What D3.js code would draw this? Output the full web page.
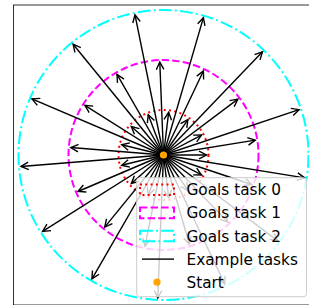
<!DOCTYPE html>
<html>
<head>
<meta charset="utf-8">
<script src="https://cdn.jsdelivr.net/npm/d3@7"></script>
<style>
  html, body { margin: 0; padding: 0; background: #fff; }
  svg { display: block; }
</style>
</head>
<body>
<svg id="chart" width="309" height="305"></svg>
<script>
// ---- data ----
const taskLabels = ["Goals task 0", "Goals task 1", "Goals task 2"];
const goalRadii = [0.9, 1.9, 2.9];
const taskColors = ["#ff0000", "#ff00ff", "#00ffff"];
const taskDashes = ["2,3.3", "7.4,3.2", "12.8,3.2,2,3.2"];
// example task directions (degrees) per task
const anglesTask0 = [0, 27.7, 55.4, 83.1, 110.8, 138.5, 166.2, 193.8, 221.5, 249.2, 276.9, 304.6, 332.3];
const anglesTask1 = [9.2, 36.9, 64.6, 92.3, 120.0, 147.7, 175.4, 203.1, 230.8, 258.5, 286.2, 313.8, 341.5];
const anglesTask2 = [18.5, 46.2, 73.8, 101.5, 129.2, 156.9, 184.6, 212.3, 240.0, 267.7, 295.4, 323.1, 350.8];
const startPoint = [0, 0];
const legendLabels = ["Goals task 0", "Goals task 1", "Goals task 2", "Example tasks", "Start"];
const xDomain = [-3, 3];
const yDomain = [-3, 3];

// ---- scales ----
const x = d3.scaleLinear().domain(xDomain).range([13.5, 313.5]);
const y = d3.scaleLinear().domain(yDomain).range([305, 5]);
const unit = x(1) - x(0);

const svg = d3.select("#chart");
const defs = svg.append("defs");
defs.append("clipPath").attr("id", "clip")
  .append("rect").attr("x", x(xDomain[0])).attr("y", y(yDomain[1]))
  .attr("width", x(xDomain[1]) - x(xDomain[0])).attr("height", y(yDomain[0]) - y(yDomain[1]));

const plot = svg.append("g").attr("clip-path", "url(#clip)");

// goal circles
plot.selectAll("circle.goal").data(goalRadii).join("circle")
  .attr("class", "goal")
  .attr("cx", x(startPoint[0])).attr("cy", y(startPoint[1]))
  .attr("r", d => d * unit)
  .attr("fill", "none")
  .attr("stroke", (d, i) => taskColors[i])
  .attr("stroke-width", 2)
  .attr("stroke-dasharray", (d, i) => taskDashes[i]);

// arrows
const arrows = [];
[anglesTask0, anglesTask1, anglesTask2].forEach((arr, t) => {
  arr.forEach(a => arrows.push({ t, a: a * Math.PI / 180, r: goalRadii[t] }));
});
const headLen = 7.5, headHalf = 3.8, shrink = 2;
const ag = plot.append("g");
arrows.forEach(d => {
  const x0 = x(startPoint[0]), y0 = y(startPoint[1]);
  const ux = Math.cos(d.a), uy = -Math.sin(d.a);
  const L = x(d.r * Math.cos(d.a)) - x0;
  const Ly = y(d.r * Math.sin(d.a)) - y0;
  const len = Math.sqrt(L * L + Ly * Ly) - shrink;
  const tx = x0 + ux * len, ty = y0 + uy * len;
  ag.append("line").attr("x1", x0).attr("y1", y0).attr("x2", tx).attr("y2", ty)
    .attr("stroke", "#000").attr("stroke-width", 1.4);
  const bx = tx - ux * headLen, by = ty - uy * headLen;
  const px = -uy, py = ux;
  ag.append("path")
    .attr("d", `M${bx + px * headHalf},${by + py * headHalf}L${tx},${ty}L${bx - px * headHalf},${by - py * headHalf}`)
    .attr("fill", "none").attr("stroke", "#000").attr("stroke-width", 1.4);
});

// start
plot.append("circle")
  .attr("cx", x(startPoint[0])).attr("cy", y(startPoint[1]))
  .attr("r", 3.6).attr("fill", "#ffa500");

// spines
svg.append("rect")
  .attr("x", x(xDomain[0])).attr("y", y(yDomain[1]))
  .attr("width", x(xDomain[1]) - x(xDomain[0])).attr("height", y(yDomain[0]) - y(yDomain[1]))
  .attr("fill", "none").attr("stroke", "#000").attr("stroke-width", 0.8);

// legend
const lg = svg.append("g");
lg.append("rect")
  .attr("x", 136.7).attr("y", 177.7).attr("width", 169.8).attr("height", 119)
  .attr("rx", 3).attr("ry", 3)
  .attr("fill", "#fff").attr("fill-opacity", 0.8)
  .attr("stroke", "#cccccc").attr("stroke-width", 1);
const rowY = i => 189.8 + 23.1 * i;
const hx0 = 140, hx1 = 174;
taskLabels.forEach((lab, i) => {
  lg.append("rect")
    .attr("x", hx0).attr("y", rowY(i) - 5.3).attr("width", hx1 - hx0).attr("height", 10.6)
    .attr("fill", "none").attr("stroke", taskColors[i]).attr("stroke-width", 2)
    .attr("stroke-dasharray", taskDashes[i]);
});
lg.append("line").attr("x1", hx0 + 2).attr("x2", hx1).attr("y1", rowY(3)).attr("y2", rowY(3))
  .attr("stroke", "#000").attr("stroke-width", 1.4);
lg.append("circle").attr("cx", (hx0 + hx1) / 2).attr("cy", rowY(4)).attr("r", 3.6).attr("fill", "#ffa500");
legendLabels.forEach((lab, i) => {
  lg.append("text")
    .attr("x", 186.5).attr("y", rowY(i) + 5.5)
    .attr("font-family", "DejaVu Sans").attr("font-size", 15.3)
    .attr("fill", "#000")
    .text(lab);
});
</script>
</body>
</html>
